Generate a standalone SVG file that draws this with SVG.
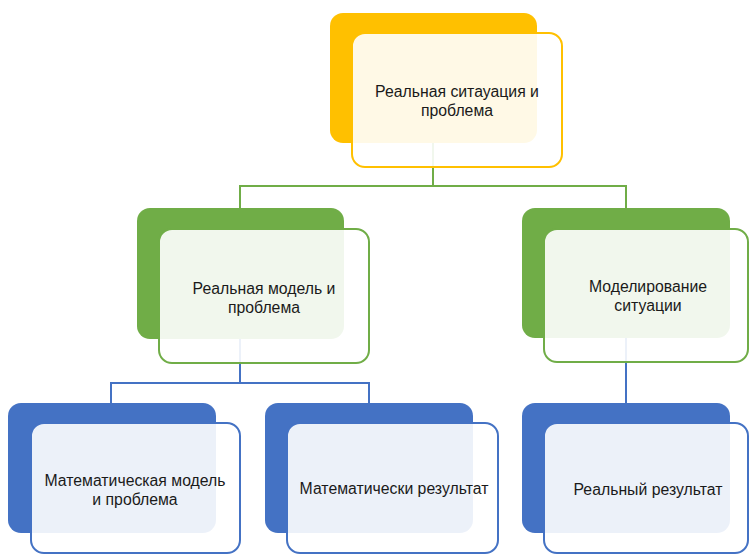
<svg xmlns="http://www.w3.org/2000/svg" width="750" height="555" viewBox="0 0 750 555">
<style>
.back{stroke:none}
.front{fill:#ffffff;fill-opacity:0.9;stroke-width:2}
.y .back{fill:#FFC000}.y .front{stroke:#FFC000}
.g .back{fill:#70AD47}.g .front{stroke:#70AD47}
.b .back{fill:#4472C4}.b .front{stroke:#4472C4}
text{font-family:"Liberation Sans",Arial,sans-serif;font-size:15.8px;fill:#1a1a1a;text-anchor:middle}
.cg{fill:none;stroke:#70AD47;stroke-width:2}
.cb{fill:none;stroke:#4472C4;stroke-width:2}
</style>
<rect width="750" height="555" fill="#ffffff"/>
<g id="connectors">
<path class="cg" d="M433 143V186M240 208V186H626V208"/>
<path class="cb" d="M240 339V383M111 403V383H369V403"/>
<path class="cb" d="M626 338V403" stroke-width="1.5"/>
</g>
<g id="n-top" class="y">
<rect class="back" x="330" y="13" width="207" height="130" rx="13"/>
<rect class="front" x="352" y="33" width="210" height="134" rx="13"/>
<text x="457" y="97">Реальная ситауация и<tspan x="457" dy="18.5">проблема</tspan></text>
</g>
<g id="n-real-model" class="g">
<rect class="back" x="137" y="208" width="207" height="131" rx="13"/>
<rect class="front" x="159" y="229" width="210" height="134" rx="13"/>
<text x="264" y="294">Реальная модель и<tspan x="264" dy="18.5">проблема</tspan></text>
</g>
<g id="n-modeling" class="g">
<rect class="back" x="522" y="208" width="208" height="130" rx="13"/>
<rect class="front" x="544" y="229" width="204" height="133" rx="13"/>
<text x="648" y="292">Моделирование<tspan x="648" dy="18.5">ситуации</tspan></text>
</g>
<g id="n-math-model" class="b">
<rect class="back" x="8" y="403" width="208" height="130" rx="13"/>
<rect class="front" x="31" y="423" width="209" height="130" rx="13"/>
<text x="135" y="486">Математическая модель<tspan x="135" dy="18.5">и проблема</tspan></text>
</g>
<g id="n-math-result" class="b">
<rect class="back" x="265" y="403" width="208" height="130" rx="13"/>
<rect class="front" x="287" y="423" width="211" height="130" rx="13"/>
<text x="394" y="494">Математически результат</text>
</g>
<g id="n-real-result" class="b">
<rect class="back" x="522" y="403" width="208" height="130" rx="13"/>
<rect class="front" x="544" y="423" width="204" height="130" rx="13"/>
<text x="648" y="495">Реальный результат</text>
</g>
</svg>
